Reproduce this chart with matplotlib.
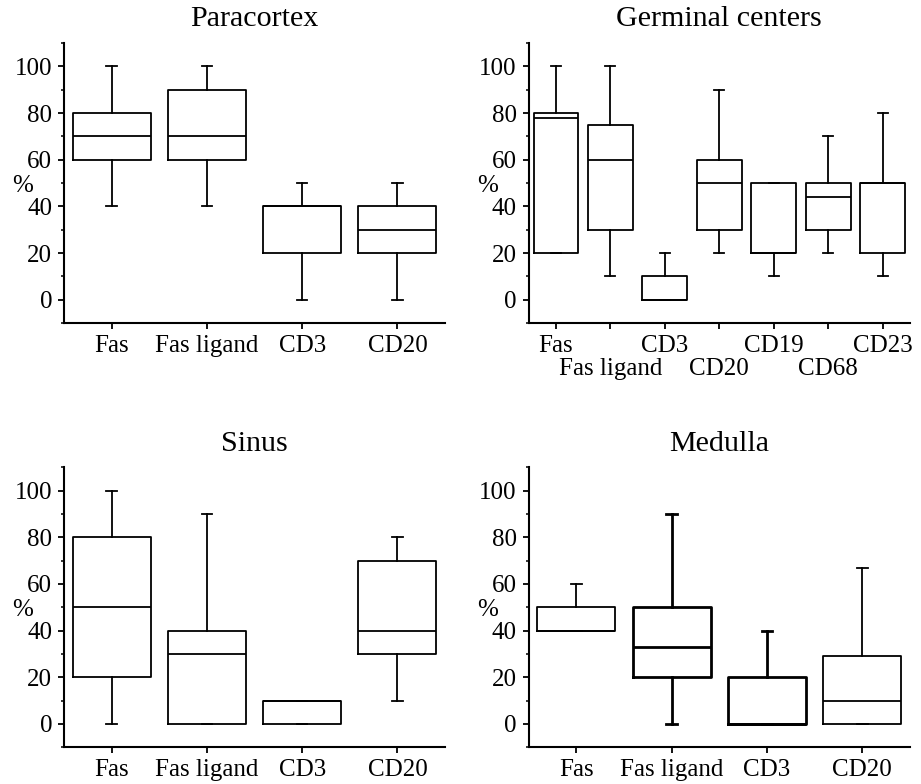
import matplotlib
matplotlib.use("Agg")
import matplotlib.pyplot as plt
from matplotlib.ticker import MultipleLocator

plt.rcParams['font.family'] = ['Liberation Serif', 'DejaVu Serif']
plt.rcParams['font.size'] = 18

# Five-number summaries: min, q1, median, q3, max (%)
para_labels = ["Fas", "Fas ligand", "CD3", "CD20"]
para_stats = [
    [40, 60, 70, 80, 100],
    [40, 60, 70, 90, 100],
    [0, 20, 40, 40, 50],
    [0, 20, 30, 40, 50],
]

germ_labels = ["Fas", "Fas ligand", "CD3", "CD20", "CD19", "CD68", "CD23"]
germ_stats = [
    [20, 20, 78, 80, 100],
    [10, 30, 60, 75, 100],
    [0, 0, 0, 10, 20],
    [20, 30, 50, 60, 90],
    [10, 20, 20, 50, 50],
    [20, 30, 44, 50, 70],
    [10, 20, 50, 50, 80],
]

sinus_labels = ["Fas", "Fas ligand", "CD3", "CD20"]
sinus_stats = [
    [0, 20, 50, 80, 100],
    [0, 0, 30, 40, 90],
    [0, 0, 10, 10, 10],
    [10, 30, 40, 70, 80],
]

medulla_labels = ["Fas", "Fas ligand", "CD3", "CD20"]
medulla_stats = [
    [40, 40, 40, 50, 60],
    [0, 20, 33, 50, 90],
    [0, 0, 0, 20, 40],
    [0, 0, 10, 29, 67],
]


def to_bxp(rows):
    out = []
    for lo, q1, med, q3, hi in rows:
        out.append({'whislo': lo, 'q1': q1, 'med': med, 'q3': q3,
                    'whishi': hi, 'fliers': []})
    return out


def draw_panel(ax, title, labels, rows, capw, two_rows=False, heavy=()):
    n = len(labels)
    pos = list(range(1, n + 1))
    line = dict(color='black', linewidth=1.3)
    parts = ax.bxp(to_bxp(rows), positions=pos, widths=0.82, capwidths=capw,
                   showfliers=False, boxprops=line, whiskerprops=line,
                   capprops=line, medianprops=line)
    # a few boxes are printed with a heavier stroke in the original
    for i in heavy:
        parts['boxes'][i].set_linewidth(2.0)
        parts['medians'][i].set_linewidth(2.0)
        for art in parts['whiskers'][2 * i:2 * i + 2] + parts['caps'][2 * i:2 * i + 2]:
            art.set_linewidth(2.0)
    ax.set_xlim(0.5, n + 0.5)
    ax.set_ylim(-10, 110)
    ax.yaxis.set_major_locator(MultipleLocator(20))
    ax.yaxis.set_minor_locator(MultipleLocator(10))
    if two_rows:
        # staggered labels: every second one goes on a lower row
        ax.set_xticks(pos[0::2], labels[0::2])
        ax.set_xticks(pos[1::2], labels[1::2], minor=True)
        ax.tick_params(axis='x', which='minor', length=4.5, width=1.3, pad=21)
    else:
        ax.set_xticks(pos, labels)
        ax.tick_params(axis='x', which='minor', bottom=False)
    for side in ['top', 'right']:
        ax.spines[side].set_visible(False)
    for side in ['left', 'bottom']:
        ax.spines[side].set_linewidth(1.5)
    ax.tick_params(which='major', length=4.5, width=1.3, pad=4)
    ax.tick_params(axis='y', which='minor', length=2.5, width=1.1)
    ax.set_ylabel('%', rotation=0, ha='center', va='center')
    ax.yaxis.set_label_coords(-0.108, 0.49)
    ax.set_title(title, pad=12)


fig = plt.figure(figsize=(9.21, 7.84), dpi=100)
ax1 = fig.add_axes([0.0695, 0.588, 0.4137, 0.357])
ax2 = fig.add_axes([0.574, 0.588, 0.414, 0.357])
ax3 = fig.add_axes([0.0695, 0.047, 0.4137, 0.357])
ax4 = fig.add_axes([0.574, 0.047, 0.414, 0.357])

draw_panel(ax1, "Paracortex", para_labels, para_stats, 0.11)
draw_panel(ax2, "Germinal centers", germ_labels, germ_stats, 0.18, two_rows=True)
draw_panel(ax3, "Sinus", sinus_labels, sinus_stats, 0.11)
draw_panel(ax4, "Medulla", medulla_labels, medulla_stats, 0.11, heavy=(1, 2))

fig.savefig("out.png", dpi=100)
